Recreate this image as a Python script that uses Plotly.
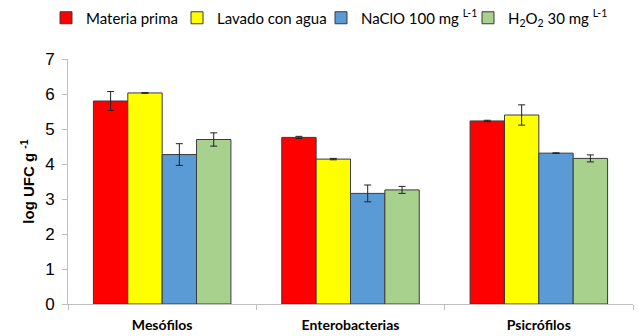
import plotly.graph_objects as go

categories = ["Mesófilos", "Enterobacterias", "Psicrófilos"]
series_names = ["Materia prima", "Lavado con agua", "NaClO 100 mg <sup>L-1</sup>",
                "H<sub>2</sub>O<sub>2</sub> 30 mg <sup>L-1</sup>"]
materia_prima = [5.80, 4.76, 5.23]
materia_prima_err = [0.27, 0.03, 0.02]
lavado_agua = [6.03, 4.14, 5.40]
lavado_agua_err = [0.01, 0.02, 0.29]
naclo = [4.27, 3.16, 4.31]
naclo_err = [0.31, 0.24, 0.01]
h2o2 = [4.70, 3.26, 4.16]
h2o2_err = [0.19, 0.10, 0.10]

values = [materia_prima, lavado_agua, naclo, h2o2]
errors = [materia_prima_err, lavado_agua_err, naclo_err, h2o2_err]
colors = ["#FF0000", "#FFFF00", "#5B9BD5", "#A9D18E"]
legend_ids = ["legend", "legend2", "legend3", "legend4"]
legend_x_px = [46, 177, 321, 468]

fig = go.Figure()
for name, v, e, c, lid in zip(series_names, values, errors, colors, legend_ids):
    fig.add_trace(go.Bar(
        x=categories, y=v, name=name, legend=lid,
        marker=dict(color=c, line=dict(color="#3a3a3a", width=1)),
        error_y=dict(type="data", array=e, visible=True, color="#222222",
                     thickness=1, width=3.5),
    ))

legend_common = dict(orientation="h", xref="container", yref="container",
                      y=1 - 18 / 336, yanchor="middle", xanchor="left",
                      bgcolor="rgba(0,0,0,0)",
                      font=dict(family="Lato", size=15, color="#000000"))
layout_legends = {}
for lid, xp in zip(legend_ids, legend_x_px):
    layout_legends[lid] = dict(legend_common, x=xp / 640)

fig.update_layout(
    width=640, height=336,
    barmode="group", bargap=0.27, bargroupgap=0,
    plot_bgcolor="white", paper_bgcolor="white",
    margin=dict(l=68, r=7, t=59, b=32, autoexpand=False),
    font=dict(family="Lato, Arial", color="#000000"),
    showlegend=True,
    **layout_legends,
)
fig.update_xaxes(
    showline=True, linecolor="#BFBFBF", linewidth=1,
    ticks="outside", tickson="boundaries", tickcolor="#BFBFBF", ticklen=5,
    tickfont=dict(family="Lato", size=14, color="#000000", weight="bold"),
    ticklabelstandoff=8,
    showgrid=False,
)
fig.update_yaxes(
    range=[0, 7], dtick=1, showline=True, linecolor="#BFBFBF", linewidth=1,
    ticks="outside", tickcolor="#BFBFBF", ticklen=5,
    tickfont=dict(family="Arial", size=17, color="#000000"),
    ticklabelstandoff=4,
    showgrid=False, zeroline=False,
    title=dict(text="log UFC g <sup>-1</sup>", font=dict(family="Arial", size=15, weight="bold"),
               standoff=6),
)

fig.write_html("out.html", config={"displayModeBar": False},
               post_script="document.body.style.margin='0';")
